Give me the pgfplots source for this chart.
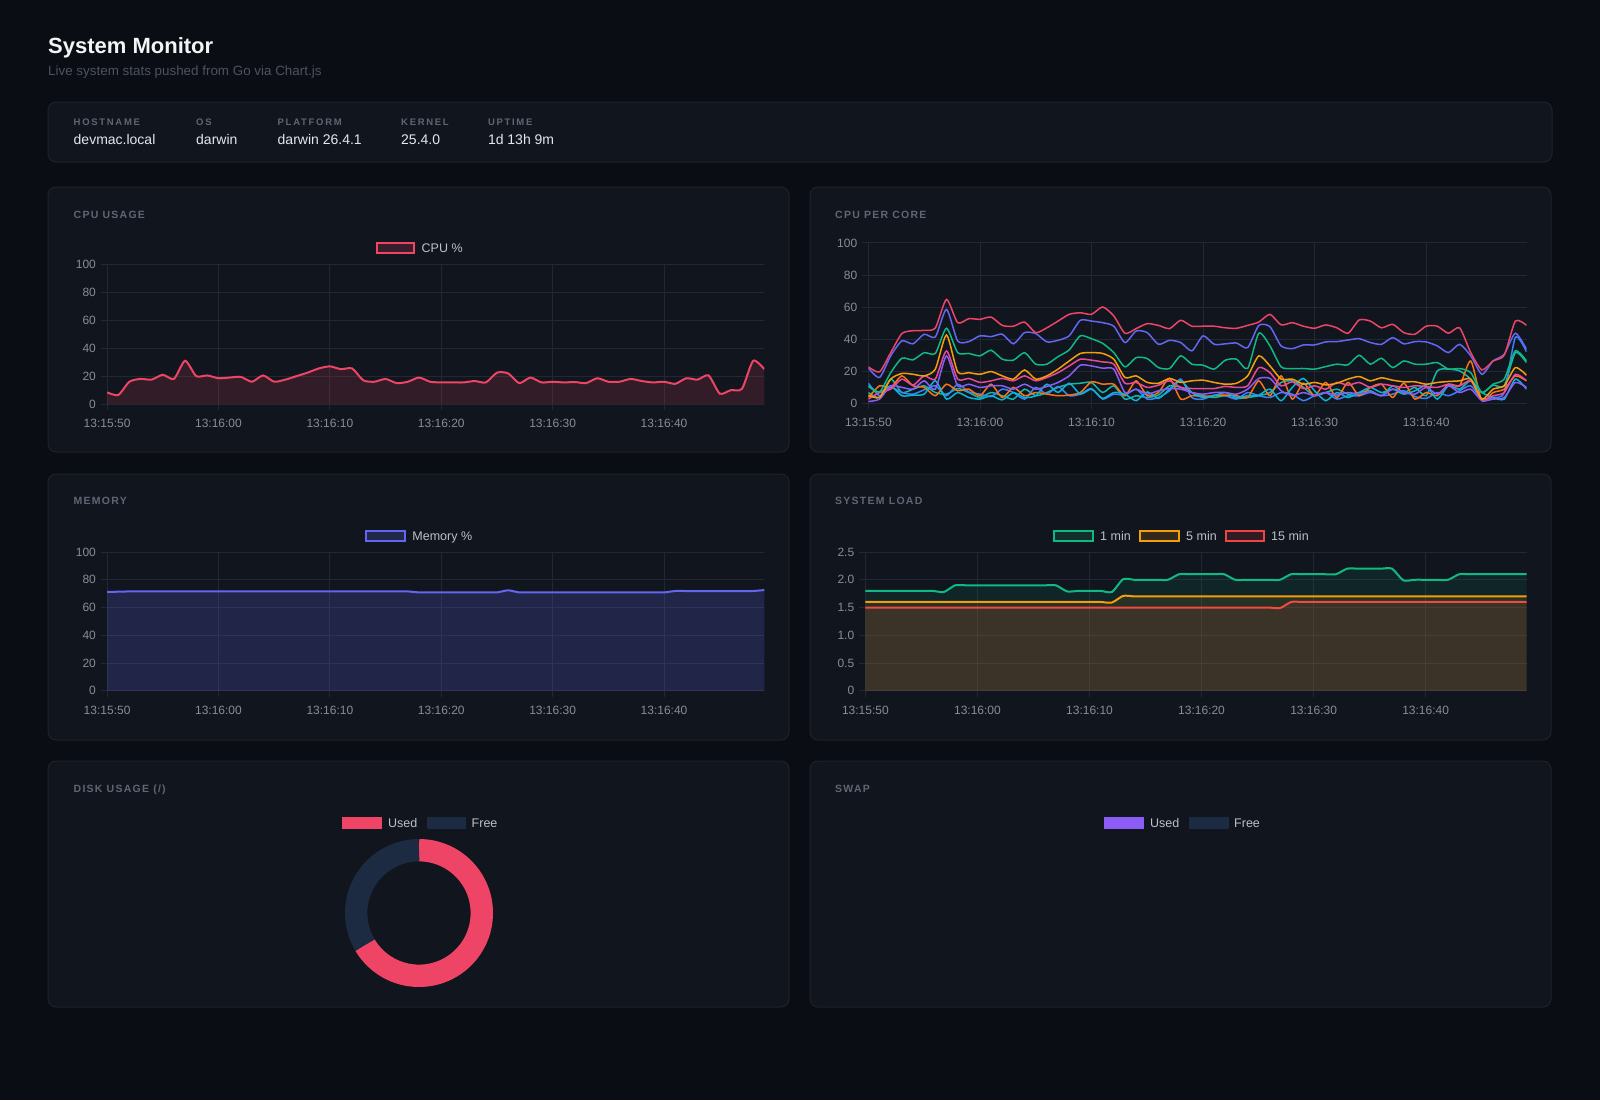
\documentclass[border=0pt]{standalone}
\usepackage{pgfplots}
\pgfplotsset{compat=1.18}
\usepackage{pgfplotstable}
\usepackage{fontspec}
\setmainfont{Liberation Sans}
\newfontfamily\trackedfont[LetterSpace=12]{Liberation Sans}
\newfontfamily\trackedsmall[LetterSpace=18]{Liberation Sans}

\definecolor{pagebg}{HTML}{0A0D13}
\definecolor{panelbg}{HTML}{11151E}
\definecolor{panelbd}{HTML}{1D222C}
\definecolor{gridc}{HTML}{212733}
\definecolor{tickc}{HTML}{878D98}
\definecolor{titlec}{HTML}{F3F4F6}
\definecolor{subc}{HTML}{4B5261}
\definecolor{capc}{HTML}{5F6673}
\definecolor{valc}{HTML}{E5E7EB}
\definecolor{legc}{HTML}{BCC0C8}
\definecolor{rosec}{HTML}{EE4466}
\definecolor{indigoc}{HTML}{6366F1}
\definecolor{emeraldc}{HTML}{10B981}
\definecolor{amberc}{HTML}{F59E0B}
\definecolor{redc}{HTML}{EF4444}
\definecolor{pinkc}{HTML}{EC4899}
\definecolor{violetc}{HTML}{8B5CF6}
\definecolor{cyanc}{HTML}{06B6D4}
\definecolor{orangec}{HTML}{F97316}
\definecolor{bluec}{HTML}{3B82F6}
\definecolor{tealc}{HTML}{14B8A6}
\definecolor{freec}{HTML}{1C2B42}

% ---------- data: one sample per second, 13:15:50 .. 13:16:49 ----------
\pgfplotstableread[row sep=\\]{v\\8.4\\6.5\\16\\18\\17.5\\21\\18\\31\\20\\20.5\\18.5\\19\\19.5\\16\\20.5\\16\\17.5\\20\\22.5\\25.5\\27\\25\\25.5\\17\\16\\18\\15\\16\\19\\16\\15.5\\15.5\\15.5\\16.5\\15.5\\22.5\\22\\15\\19\\15.5\\16\\15.5\\15.8\\15\\18.5\\16\\16\\18\\16.5\\15.5\\16\\14.5\\18.5\\17.5\\20.5\\7.5\\10\\11\\31\\25\\}\cpudata

\pgfplotstableread[row sep=\\]{v\\71.2\\71.4\\71.6\\71.6\\71.6\\71.6\\71.6\\71.6\\71.6\\71.6\\71.6\\71.6\\71.6\\71.6\\71.6\\71.6\\71.6\\71.6\\71.6\\71.6\\71.6\\71.6\\71.6\\71.6\\71.6\\71.6\\71.6\\71.6\\70.9\\70.9\\70.9\\70.9\\70.9\\70.9\\70.9\\70.9\\72.4\\70.9\\70.9\\70.9\\70.9\\70.9\\70.9\\70.9\\70.9\\70.9\\70.9\\70.9\\70.9\\70.9\\70.9\\71.9\\71.9\\71.9\\71.9\\71.9\\71.9\\71.9\\71.9\\72.6\\}\memdata

\pgfplotstableread[row sep=\\]{v\\1.80\\1.80\\1.80\\1.80\\1.80\\1.80\\1.80\\1.78\\1.90\\1.90\\1.90\\1.90\\1.90\\1.90\\1.90\\1.90\\1.90\\1.90\\1.79\\1.80\\1.80\\1.80\\1.78\\2.01\\2.00\\2.00\\2.00\\2.00\\2.10\\2.10\\2.10\\2.10\\2.10\\2.00\\2.00\\2.00\\2.00\\2.00\\2.10\\2.10\\2.10\\2.10\\2.10\\2.20\\2.20\\2.20\\2.20\\2.20\\1.99\\2.00\\2.00\\2.00\\2.00\\2.10\\2.10\\2.10\\2.10\\2.10\\2.10\\2.10\\}\loadone
\pgfplotstableread[row sep=\\]{v\\1.60\\1.60\\1.60\\1.60\\1.60\\1.60\\1.60\\1.60\\1.60\\1.60\\1.60\\1.60\\1.60\\1.60\\1.60\\1.60\\1.60\\1.60\\1.60\\1.60\\1.60\\1.60\\1.59\\1.71\\1.70\\1.70\\1.70\\1.70\\1.70\\1.70\\1.70\\1.70\\1.70\\1.70\\1.70\\1.70\\1.70\\1.70\\1.70\\1.70\\1.70\\1.70\\1.70\\1.70\\1.70\\1.70\\1.70\\1.70\\1.70\\1.70\\1.70\\1.70\\1.70\\1.70\\1.70\\1.70\\1.70\\1.70\\1.70\\1.70\\}\loadfive
\pgfplotstableread[row sep=\\]{v\\1.50\\1.50\\1.50\\1.50\\1.50\\1.50\\1.50\\1.50\\1.50\\1.50\\1.50\\1.50\\1.50\\1.50\\1.50\\1.50\\1.50\\1.50\\1.50\\1.50\\1.50\\1.50\\1.50\\1.50\\1.50\\1.50\\1.50\\1.50\\1.50\\1.50\\1.50\\1.50\\1.50\\1.50\\1.50\\1.50\\1.50\\1.49\\1.60\\1.60\\1.60\\1.60\\1.60\\1.60\\1.60\\1.60\\1.60\\1.60\\1.60\\1.60\\1.60\\1.60\\1.60\\1.60\\1.60\\1.60\\1.60\\1.60\\1.60\\1.60\\}\loadfifteen

% per-core usage, ten cores
\pgfplotstableread[row sep=\\]{v\\22.6\\19.5\\31.5\\43.4\\45.2\\45.4\\46.9\\64.7\\50.2\\52.7\\52.3\\53.7\\48.5\\48\\50.6\\44\\47\\51.2\\55.4\\56.4\\55.4\\60\\54.4\\43.6\\46.5\\49.6\\48.5\\46.5\\51.7\\48\\48\\48\\47\\46.7\\48.5\\50.6\\55.4\\48.8\\50.2\\48\\46.7\\48.8\\47\\43.6\\51.9\\51.2\\47\\49.2\\44\\43\\48\\48\\43.6\\47\\31.5\\20.7\\26.3\\29.9\\51.2\\48.5\\}\corea
\pgfplotstableread[row sep=\\]{v\\21.8\\16\\29.5\\38.8\\37\\43\\41.3\\58.5\\38.8\\38.4\\42\\41.5\\43\\37\\44\\43.4\\38.2\\39.2\\42\\51.7\\51.2\\50.2\\48\\37.8\\45\\44\\36.7\\39.2\\37.8\\32.6\\42\\36.7\\37\\37.5\\34.6\\48.5\\47.7\\35.7\\34\\36.3\\36.3\\38.2\\38.4\\39.4\\40.2\\37.8\\36.7\\40.9\\37\\38.4\\38.2\\35.7\\31.5\\36.7\\29.5\\18\\26.3\\30.5\\43.6\\33.6\\}\coreb
\pgfplotstableread[row sep=\\]{v\\10.4\\7\\19\\28\\27\\31.5\\31\\46.7\\31.5\\31\\29.5\\33\\27.4\\26.8\\31.5\\24.3\\24.3\\29\\33.2\\42\\40.2\\37.3\\31.5\\22.6\\28.4\\27.8\\22.2\\21.6\\29.5\\24.3\\23.7\\21.2\\26.8\\27.4\\21.6\\43.6\\35.7\\22.6\\21.6\\21.6\\21.2\\22.8\\24.3\\23.9\\29.9\\24.3\\28\\22.2\\26.3\\24.3\\24.3\\25.3\\21.2\\21.6\\19\\6.6\\11.8\\15\\32.6\\26.3\\}\corec
\pgfplotstableread[row sep=\\]{v\\5\\3.5\\15\\18.5\\18\\17\\21.2\\42.5\\19.5\\19\\18\\19.7\\17\\15\\20.7\\15\\17\\21.2\\26.3\\31\\31.5\\31\\27.4\\16\\17\\12.9\\12.4\\15.4\\12.9\\13.9\\14.3\\12.9\\11.8\\12.4\\17\\29.5\\23.2\\15\\15\\11.8\\12.9\\11.4\\12.4\\15\\16.6\\13.9\\15.8\\14.3\\13.3\\13.3\\11.8\\12.9\\13.5\\13.9\\15\\2.5\\8.7\\10.8\\22.2\\17.4\\}\cored
\pgfplotstableread[row sep=\\]{v\\2.5\\6.6\\8.7\\15\\11.2\\17\\15\\32.6\\15\\15.4\\12.9\\13.9\\15.4\\13.9\\17\\13.9\\16\\19\\23.2\\27.4\\26.8\\25.7\\24.3\\12.4\\12.9\\9.8\\11.2\\13.9\\9.8\\9.1\\9.1\\9.1\\10.4\\9.8\\10.8\\22.2\\19\\10.8\\13.3\\9.1\\10.8\\8.7\\12.9\\11.2\\12.9\\9.8\\11.8\\10.8\\9.8\\10.8\\10.4\\9.8\\11.8\\10.8\\13.9\\2.5\\4.6\\6.6\\18\\13.9\\}\coree
\pgfplotstableread[row sep=\\]{v\\1\\2.5\\10.8\\9.8\\8.7\\13.9\\8.7\\29.5\\10.8\\11.8\\9.8\\10.8\\10.8\\8.7\\11.8\\8.7\\10.4\\12.9\\17\\23.7\\23.2\\21.8\\21.2\\6.6\\8.7\\5.6\\7.7\\9.1\\8.7\\6.6\\5.6\\6.6\\6.6\\5.6\\8.7\\15.4\\15.4\\7.7\\4.6\\6.6\\4.6\\6.6\\5\\6.6\\5.6\\7\\4.6\\8.7\\6.6\\5.6\\9.8\\5.6\\10.8\\6.6\\8.7\\1.5\\2.5\\3.5\\12.9\\9.8\\}\coref
\pgfplotstableread[row sep=\\]{v\\10.8\\6.6\\10.8\\4.6\\5\\5.6\\13.9\\2.5\\6.6\\3.5\\2.5\\4.6\\2\\6.6\\3.5\\4.6\\11.8\\6.6\\12.4\\5.6\\8.7\\2.9\\6.6\\5.6\\1.5\\7\\2.9\\8.7\\13.9\\6.6\\3.5\\4.6\\6.6\\3.5\\4.6\\5\\8.7\\1.5\\9.8\\15.4\\7.7\\1.5\\6.6\\3.5\\6.6\\9.8\\6.6\\8.7\\5.6\\7.7\\10.8\\2.5\\10.8\\8.7\\13.9\\6.6\\3.5\\2.5\\15\\8.7\\}\coreg
\pgfplotstableread[row sep=\\]{v\\3.5\\10.8\\9.8\\17\\10.8\\9.8\\4.6\\11.8\\7.7\\8.7\\4.6\\11.8\\3.5\\9.8\\4.6\\6.6\\5.6\\4.6\\5\\6.6\\13.3\\11.8\\11.8\\4.6\\13.9\\4.6\\6.6\\15.4\\2.5\\4.6\\4.1\\4.6\\5\\4.6\\3.5\\13.9\\4.6\\17\\2.5\\12.4\\4.6\\12.9\\3.5\\12.9\\4.6\\9.8\\11.8\\3.5\\12.4\\2.5\\6.6\\4.6\\11.8\\10.8\\26.3\\1.5\\6.6\\8.7\\17\\13.9\\}\coreh
\pgfplotstableread[row sep=\\]{v\\12.4\\4.6\\9.8\\6.6\\5.6\\8.3\\10.8\\4.6\\11.8\\7\\5.6\\4.1\\8.7\\6.6\\2.5\\9.8\\5.6\\10.4\\4.6\\5.6\\9.1\\2.5\\5.6\\5\\8.7\\2.5\\3.5\\7.7\\15\\3.5\\2.5\\5\\4.6\\2.5\\6.6\\4.6\\3.5\\6.6\\5.6\\1.5\\4.6\\6.6\\2.5\\4.6\\4.6\\6.6\\4.6\\5.6\\7.7\\4.1\\2.9\\6.6\\4.6\\7.7\\10.8\\2.5\\3.5\\6.6\\41\\32\\}\corei
\pgfplotstableread[row sep=\\]{v\\6.6\\3.5\\15\\6.6\\8.7\\10.8\\6.6\\5.6\\9.1\\6.6\\3.5\\6.6\\4.6\\2.5\\8.7\\4.6\\6.6\\9.8\\11.8\\12.4\\12.9\\6.6\\10.8\\2.5\\4.6\\3.5\\5\\10.8\\9.8\\6.6\\4.6\\3.5\\4.6\\2.9\\3.5\\4.6\\6.6\\12.9\\13.9\\9.8\\4.6\\6.6\\8.7\\5.6\\6.6\\7.7\\4.6\\10.8\\6.6\\9.8\\4.6\\20.1\\21.2\\20.1\\15\\6.6\\11.2\\10.8\\31.5\\25.3\\}\corej

% disk usage of /
\pgfplotstableread{
slice value
Used  66.5
Free  33.5
}\diskdata

\pgfplotsset{
  dashaxis/.style={
    scale only axis, anchor=south west,
    axis line style={draw=none},
    xmin=0, xmax=59,
    xtick={0,10,20,30,40,50},
    xticklabels={13:15:50,13:16:00,13:16:10,13:16:20,13:16:30,13:16:40},
    grid=major,
    major grid style={draw=gridc, line width=0.85pt},
    tick style={draw=gridc, line width=0.85pt},
    tick align=outside, major tick length=6pt, tick pos=left,
    ticklabel style={font=\fontsize{12}{14}\selectfont, text=tickc, inner sep=0pt},
    xticklabel shift=9pt, yticklabel shift=5pt,
    /pgf/number format/assume math mode=true,
  },
  curve/.style={smooth, tension=0.4, mark=none},
}

\tikzset{
  panel/.style={fill=panelbg, draw=panelbd, line width=1pt, rounded corners=8pt},
  ptitle/.style={anchor=base west, inner sep=0pt, text=capc, font=\trackedfont\fontsize{10.5}{12}\selectfont\bfseries},
  ilab/.style={anchor=base west, inner sep=0pt, text=capc, font=\trackedsmall\fontsize{9.5}{11}\selectfont\bfseries},
  ival/.style={anchor=base west, inner sep=0pt, text=valc, font=\fontsize{14}{16}\selectfont},
  leg/.style={anchor=base west, inner sep=0pt, text=legc, font=\fontsize{12.5}{14}\selectfont},
}

\begin{document}
\begin{tikzpicture}
\fill[pagebg] (0pt,0pt) rectangle (1600pt,-1100pt);

% header
\node[anchor=base west, inner sep=0pt, text=titlec, font=\fontsize{22}{26}\selectfont\bfseries] at (48pt,-53.8pt) {System Monitor};
\node[anchor=base west, inner sep=0pt, text=subc, font=\fontsize{13.4}{15}\selectfont] at (48pt,-75pt) {Live system stats pushed from Go via Chart.js};

% host information bar
\draw[panel] (48pt,-102pt) rectangle (1552pt,-162pt);
\node[ilab] at (73.5pt,-125.8pt) {HOSTNAME};
\node[ilab] at (196pt,-125.8pt) {OS};
\node[ilab] at (277.5pt,-125.8pt) {PLATFORM};
\node[ilab] at (401pt,-125.8pt) {KERNEL};
\node[ilab] at (487.8pt,-125.8pt) {UPTIME};
\node[ival] at (73.5pt,-144.8pt) {devmac.local};
\node[ival] at (196pt,-144.8pt) {darwin};
\node[ival] at (277.5pt,-144.8pt) {darwin 26.4.1};
\node[ival] at (401pt,-144.8pt) {25.4.0};
\node[ival] at (487.8pt,-144.8pt) {1d 13h 9m};

% cards
\draw[panel] (48pt,-187pt) rectangle (789pt,-452pt);
\draw[panel] (810pt,-187pt) rectangle (1551pt,-452pt);
\draw[panel] (48pt,-474pt) rectangle (789pt,-740pt);
\draw[panel] (810pt,-474pt) rectangle (1551pt,-740pt);
\draw[panel] (48pt,-761pt) rectangle (789pt,-1007pt);
\draw[panel] (810pt,-761pt) rectangle (1551pt,-1007pt);

\node[ptitle] at (73.5pt,-218pt) {CPU USAGE};
\node[ptitle] at (835pt,-218pt) {CPU PER CORE};
\node[ptitle] at (73.5pt,-504.8pt) {MEMORY};
\node[ptitle] at (835pt,-504.8pt) {SYSTEM LOAD};
\node[ptitle] at (73.5pt,-792.5pt) {DISK USAGE (/)};
\node[ptitle] at (835pt,-792.5pt) {SWAP};

% ---- CPU usage ----
\draw[rosec, line width=2pt, fill=rosec!18!panelbg] (376.5pt,-243pt) rectangle (414.3pt,-253pt);
\node[leg] at (421.5pt,-252.5pt) {CPU \%};
\begin{axis}[dashaxis, at={(107.1pt,-404.1pt)}, width=657.2pt, height=139.8pt,
  ymin=0, ymax=100, ytick={0,20,40,60,80,100}]
\addplot[curve, draw=none, fill=rosec, fill opacity=0.15] table[x expr=\coordindex, y=v]{\cpudata} \closedcycle;
\addplot[curve, rosec, line width=2pt] table[x expr=\coordindex, y=v]{\cpudata};
\end{axis}

% ---- CPU per core ----
\begin{axis}[dashaxis, at={(868.4pt,-403.1pt)}, width=658.1pt, height=160.2pt,
  ymin=0, ymax=100, ytick={0,20,40,60,80,100}]
\addplot[curve, tealc, line width=1.5pt] table[x expr=\coordindex, y=v]{\corej};
\addplot[curve, bluec, line width=1.5pt] table[x expr=\coordindex, y=v]{\corei};
\addplot[curve, orangec, line width=1.5pt] table[x expr=\coordindex, y=v]{\coreh};
\addplot[curve, cyanc, line width=1.5pt] table[x expr=\coordindex, y=v]{\coreg};
\addplot[curve, violetc, line width=1.5pt] table[x expr=\coordindex, y=v]{\coref};
\addplot[curve, pinkc, line width=1.5pt] table[x expr=\coordindex, y=v]{\coree};
\addplot[curve, amberc, line width=1.5pt] table[x expr=\coordindex, y=v]{\cored};
\addplot[curve, emeraldc, line width=1.5pt] table[x expr=\coordindex, y=v]{\corec};
\addplot[curve, indigoc, line width=1.5pt] table[x expr=\coordindex, y=v]{\coreb};
\addplot[curve, rosec, line width=1.5pt] table[x expr=\coordindex, y=v]{\corea};
\end{axis}

% ---- Memory ----
\draw[indigoc, line width=2pt, fill=indigoc!22!panelbg] (366.3pt,-530.7pt) rectangle (405.1pt,-540.7pt);
\node[leg] at (412.2pt,-540.2pt) {Memory \%};
\begin{axis}[dashaxis, at={(107.1pt,-690.8pt)}, width=657.2pt, height=138.8pt,
  ymin=0, ymax=100, ytick={0,20,40,60,80,100}]
\addplot[curve, draw=none, fill=indigoc, fill opacity=0.2] table[x expr=\coordindex, y=v]{\memdata} \closedcycle;
\addplot[curve, indigoc, line width=2pt] table[x expr=\coordindex, y=v]{\memdata};
\end{axis}

% ---- System load ----
\draw[emeraldc, line width=2pt, fill=emeraldc!15!panelbg] (1054pt,-530.7pt) rectangle (1093pt,-540.7pt);
\node[leg] at (1100pt,-540.2pt) {1 min};
\draw[amberc, line width=2pt, fill=amberc!15!panelbg] (1140pt,-530.7pt) rectangle (1179pt,-540.7pt);
\node[leg] at (1186pt,-540.2pt) {5 min};
\draw[redc, line width=2pt, fill=redc!15!panelbg] (1226pt,-530.7pt) rectangle (1264pt,-540.7pt);
\node[leg] at (1271pt,-540.2pt) {15 min};
\begin{axis}[dashaxis, at={(865.4pt,-690.8pt)}, width=661.1pt, height=138.8pt,
  ymin=0, ymax=2.5, ytick={0,0.5,1,1.5,2,2.5}, yticklabels={0,0.5,1.0,1.5,2.0,2.5}]
\addplot[curve, draw=none, fill=emeraldc, fill opacity=0.1] table[x expr=\coordindex, y=v]{\loadone} \closedcycle;
\addplot[curve, draw=none, fill=amberc, fill opacity=0.1] table[x expr=\coordindex, y=v]{\loadfive} \closedcycle;
\addplot[curve, draw=none, fill=redc, fill opacity=0.1] table[x expr=\coordindex, y=v]{\loadfifteen} \closedcycle;
\addplot[curve, emeraldc, line width=2pt] table[x expr=\coordindex, y=v]{\loadone};
\addplot[curve, amberc, line width=2pt] table[x expr=\coordindex, y=v]{\loadfive};
\addplot[curve, redc!85!orangec, line width=2pt] table[x expr=\coordindex, y=v]{\loadfifteen};
\end{axis}

% ---- Disk usage ----
\fill[rosec] (342pt,-816.5pt) rectangle (382pt,-828.5pt);
\node[leg] at (388pt,-827pt) {Used};
\fill[freec] (426.5pt,-816.5pt) rectangle (466pt,-828.5pt);
\node[leg] at (471.5pt,-827pt) {Free};
\pgfplotstablegetelem{0}{value}\of\diskdata
\pgfmathsetmacro{\usedend}{90-3.6*\pgfplotsretval}
\begin{axis}[hide axis, scale only axis, width=160pt, height=160pt,
  at={(419pt,-913pt)}, anchor=center, xmin=-1, xmax=1, ymin=-1, ymax=1]
\draw[rosec, line width=22.4pt] (axis cs:0,0) ++(90:62.8pt) arc[start angle=90, end angle=\usedend, radius=62.8pt];
\draw[freec, line width=22.4pt] (axis cs:0,0) ++(\usedend:62.8pt) arc[start angle=\usedend, end angle=-270, radius=62.8pt];
\end{axis}

% ---- Swap ----
\fill[violetc] (1104pt,-816.5pt) rectangle (1144pt,-828.5pt);
\node[leg] at (1150pt,-827pt) {Used};
\fill[freec] (1189pt,-816.5pt) rectangle (1229pt,-828.5pt);
\node[leg] at (1234pt,-827pt) {Free};
\end{tikzpicture}
\end{document}
